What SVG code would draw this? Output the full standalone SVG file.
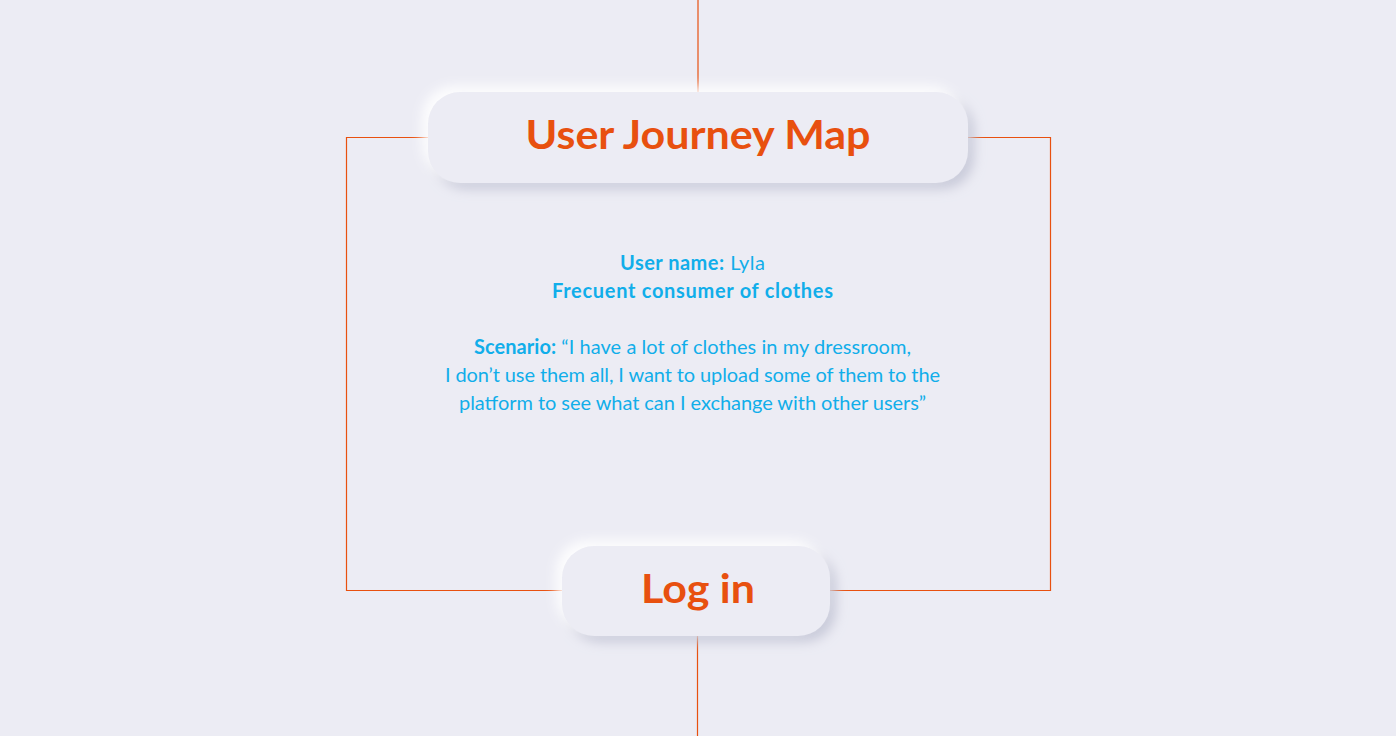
<svg xmlns="http://www.w3.org/2000/svg" width="1396" height="736" viewBox="0 0 1396 736">
<defs>
<filter id="neu" x="-20%" y="-40%" width="140%" height="180%">
<feGaussianBlur in="SourceAlpha" stdDeviation="6" result="b"/>
<feOffset in="b" dx="6" dy="6" result="dk"/>
<feFlood flood-color="#c4c6d6" flood-opacity="0.9"/>
<feComposite in2="dk" operator="in" result="dark"/>
<feOffset in="b" dx="-6" dy="-6" result="lt"/>
<feFlood flood-color="#ffffff" flood-opacity="0.9"/>
<feComposite in2="lt" operator="in" result="light"/>
<feMerge><feMergeNode in="dark"/><feMergeNode in="light"/><feMergeNode in="SourceGraphic"/></feMerge>
</filter>
</defs>
<style>
.bg{fill:#ECECF4}
.box{fill:#ECECF4;filter:url(#neu)}
.ln{fill:none;stroke:#E8500F;stroke-width:1.2}
.title{font-family:Lato,"Open Sans",sans-serif;font-weight:700;fill:#E8500F;text-anchor:middle}
.body{font-family:Lato,"Open Sans",sans-serif;font-size:20px;fill:#11AEEA;text-anchor:middle}
.b{font-weight:700}
</style>
<rect class="bg" width="1396" height="736"/>
<g id="connectors">
<line class="ln" x1="698" y1="0" x2="698" y2="95"/>
<polyline class="ln" points="430,137.5 346.5,137.5 346.5,590.5 565,590.5"/>
<polyline class="ln" points="966,137.5 1050.5,137.5 1050.5,590.5 828,590.5"/>
<line class="ln" x1="697.5" y1="634" x2="697.5" y2="736"/>
</g>
<g id="title-node">
<rect class="box" x="428" y="92" width="540" height="91" rx="32"/>
<text class="title" x="698" y="149" font-size="40" textLength="345" lengthAdjust="spacingAndGlyphs">User Journey Map</text>
</g>
<g id="description">
<text class="body" x="692.5" y="270" textLength="145"><tspan class="b">User name:</tspan> Lyla</text>
<text class="body b" x="692.5" y="298" textLength="281">Frecuent consumer of clothes</text>
<text class="body" x="692.5" y="354" textLength="437"><tspan class="b">Scenario:</tspan> “I have a lot of clothes in my dressroom,</text>
<text class="body" x="692.5" y="382" textLength="495">I don’t use them all, I want to upload some of them to the</text>
<text class="body" x="692.5" y="410" textLength="467">platform to see what can I exchange with other users”</text>
</g>
<g id="login-node">
<rect class="box" x="562" y="546" width="268" height="90" rx="32"/>
<text class="title" x="698" y="603" font-size="40" textLength="114" lengthAdjust="spacingAndGlyphs">Log in</text>
</g>
</svg>
